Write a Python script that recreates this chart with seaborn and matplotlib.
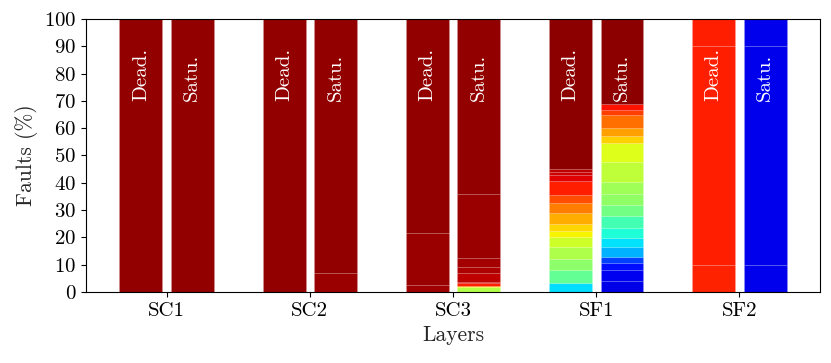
import numpy as np
import matplotlib
matplotlib.use("Agg")
import matplotlib.pyplot as plt
import seaborn as sns

# ---- data ----
layers = ["SC1", "SC2", "SC3", "SF1", "SF2"]
kinds = ["Dead.", "Satu."]

# segment heights (%) from bottom to top, and jet colour value of each segment
sc1_dead_h = [100.0]
sc1_dead_c = [0.982]
sc1_satu_h = [100.0]
sc1_satu_c = [0.982]

sc2_dead_h = [100.0]
sc2_dead_c = [0.982]
sc2_satu_h = [7.1, 92.9]
sc2_satu_c = [0.975, 0.982]

sc3_dead_h = [2.4, 19.3, 78.3]
sc3_dead_c = [0.972, 0.976, 0.982]
sc3_satu_h = [1.7, 0.5, 1.0, 0.6, 3.0, 2.5, 3.2, 23.3, 64.2]
sc3_satu_c = [0.565, 0.655, 0.875, 0.915, 0.945, 0.958, 0.965, 0.975, 0.982]

sf1_dead_h = [3.3, 4.7, 4.0, 4.6, 3.4, 2.5, 2.5, 4.0, 3.5, 3.0, 5.3, 2.2, 1.0, 1.0, 55.0]
sf1_dead_c = [0.34, 0.47, 0.52, 0.56, 0.60, 0.65, 0.68, 0.725, 0.775, 0.825, 0.875,
              0.915, 0.93, 0.945, 0.985]
sf1_satu_h = [4.0, 4.0, 2.5, 2.5, 3.6, 3.2, 3.6, 4.6, 4.0, 4.0, 4.4, 7.3, 6.8, 2.5,
              3.0, 4.8, 1.8, 2.1, 31.3]
sf1_satu_c = [0.09, 0.10, 0.14, 0.19, 0.30, 0.345, 0.39, 0.43, 0.49, 0.525, 0.545,
              0.58, 0.62, 0.69, 0.74, 0.79, 0.84, 0.89, 0.985]

sf2_dead_h = [10.0, 80.0, 10.0]
sf2_dead_c = [0.872, 0.876, 0.876]
sf2_satu_h = [10.0, 80.0, 10.0]
sf2_satu_c = [0.095, 0.095, 0.095]

yticks = list(range(0, 101, 10))

bars_h = [[sc1_dead_h, sc1_satu_h], [sc2_dead_h, sc2_satu_h], [sc3_dead_h, sc3_satu_h],
          [sf1_dead_h, sf1_satu_h], [sf2_dead_h, sf2_satu_h]]
bars_c = [[sc1_dead_c, sc1_satu_c], [sc2_dead_c, sc2_satu_c], [sc3_dead_c, sc3_satu_c],
          [sf1_dead_c, sf1_satu_c], [sf2_dead_c, sf2_satu_c]]

# ---- style ----
sns.set_theme(style="ticks")
plt.rcParams["font.family"] = ["cmr10", "DejaVu Serif"]
plt.rcParams["mathtext.fontset"] = "cm"
plt.rcParams["axes.formatter.use_mathtext"] = True
plt.rcParams["axes.edgecolor"] = "black"
plt.rcParams["axes.linewidth"] = 0.8
plt.rcParams["xtick.color"] = "black"
plt.rcParams["ytick.color"] = "black"

fig = plt.figure(figsize=(8.31, 3.63), dpi=100)
ax = fig.add_axes([0.1035, 0.1956, 0.8833, 0.7521])

cmap = matplotlib.colormaps["jet"]
width = 0.3
offsets = [-0.18, 0.18]
x = np.arange(len(layers))

for i, layer in enumerate(layers):
    for k in range(2):
        hs = bars_h[i][k]
        cs = bars_c[i][k]
        bottom = 0.0
        for h, c in zip(hs, cs):
            ax.bar(x[i] + offsets[k], h, width=width, bottom=bottom,
                   color=cmap(c), edgecolor=(1, 1, 1, 0.1), linewidth=0.6)
            bottom += h
        ax.text(x[i] + offsets[k], 70, kinds[k], rotation=90, ha="center",
                va="bottom", color="white", fontsize=15)

ax.set_ylim(0, 100)
ax.set_yticks(yticks)
ax.set_xticks(x)
ax.set_xticklabels(layers)
ax.tick_params(axis="both", labelsize=15, length=3.5, width=0.8, direction="out")
ax.set_ylabel("Faults (%)", fontsize=15.5)
ax.set_xlabel("Layers", fontsize=15.5)
for s in ax.spines.values():
    s.set_visible(True)
    s.set_color("black")

fig.savefig("out.png", dpi=100)
